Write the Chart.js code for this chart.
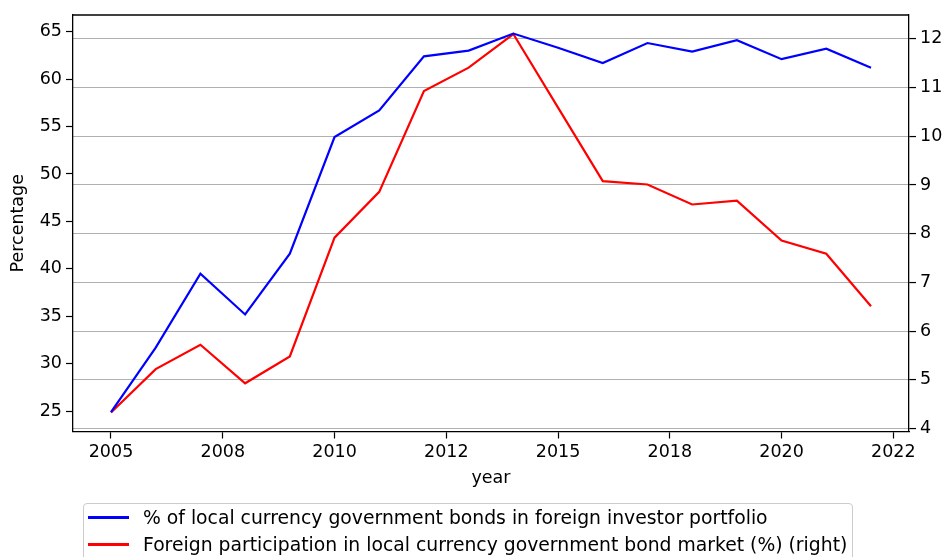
<!DOCTYPE html>
<html lang="en">

<head>
    <meta charset="UTF-8">
    <title>Local currency government bonds</title>
    <script src="https://cdn.jsdelivr.net/npm/chart.js"></script>
    <style>
        html, body {
            margin: 0;
            padding: 0;
            background: #ffffff;
            overflow: hidden;
        }

        .wrap {
            position: relative;
            width: 949px;
            height: 557px;
        }

        #legend {
            position: absolute;
            left: 83px;
            top: 503px;
            width: 768px;
            height: 62px;
            border: 1px solid #cccccc;
            border-radius: 4px;
            font-family: "DejaVu Sans", sans-serif;
            font-size: 18.8px;
            color: #000000;
        }

        .item {
            display: flex;
            align-items: center;
            height: 27px;
            padding-left: 4px;
            white-space: nowrap;
        }

        .swatch {
            display: inline-block;
            width: 41px;
            height: 2.2px;
            margin-right: 14px;
        }
    </style>
</head>

<body>
    <div class="wrap">
        <canvas id="bondChart" width="949" height="557"></canvas>
        <div id="legend"></div>
    </div>

    <script>
        // yearly observations
        const years = [2005, 2006, 2007, 2008, 2009, 2010, 2011, 2012, 2013,
                       2014, 2015, 2016, 2017, 2018, 2019, 2020, 2021, 2022];
        // % of local currency government bonds in foreign investor portfolio (left axis)
        const portfolioShare = [24.9, 31.7, 39.5, 35.2, 41.6, 53.9, 56.7, 62.4, 63.0,
                                64.8, 63.3, 61.7, 63.8, 62.9, 64.1, 62.1, 63.2, 61.2];
        // foreign participation in the bond market, % (right axis)
        const foreignParticipation = [4.33, 5.22, 5.72, 4.93, 5.48, 7.92, 8.86, 10.93, 11.41,
                                      12.10, 10.59, 9.08, 9.01, 8.60, 8.68, 7.86, 7.59, 6.51];

        const xTickValues = [2005, 2007.5, 2010, 2012.5, 2015, 2017.5, 2020, 2022.5];
        const xTickLabels = ['2005', '2008', '2010', '2012', '2015', '2018', '2020', '2022'];
        const leftTicks = [25, 30, 35, 40, 45, 50, 55, 60, 65];
        const rightTicks = [4, 5, 6, 7, 8, 9, 10, 11, 12];

        const seriesNames = [
            '% of local currency government bonds in foreign investor portfolio',
            'Foreign participation in local currency government bond market (%) (right)'
        ];
        const seriesColors = ['#0000ff', '#ff0000'];

        const FONT = { family: 'DejaVu Sans', size: 17.5 };

        const toPoints = (vals) => years.map((yr, i) => ({ x: yr, y: vals[i] }));
        const fixTicks = (list) => (scale) => {
            scale.ticks = list.map(v => ({ value: v }));
        };

        // matplotlib-like top spine (chart.js only draws left/right/bottom borders here)
        const topSpine = {
            id: 'topSpine',
            afterDraw(chart) {
                const { ctx, chartArea } = chart;
                ctx.save();
                ctx.strokeStyle = '#000000';
                ctx.lineWidth = 1.3;
                ctx.beginPath();
                ctx.moveTo(chartArea.left, chartArea.top);
                ctx.lineTo(chartArea.right, chartArea.top);
                ctx.stroke();
                ctx.restore();
            }
        };

        const ctx = document.getElementById('bondChart').getContext('2d');
        const bondChart = new Chart(ctx, {
            type: 'line',
            data: {
                datasets: [{
                    label: seriesNames[0],
                    data: toPoints(portfolioShare),
                    borderColor: seriesColors[0],
                    backgroundColor: seriesColors[0],
                    borderWidth: 2.2,
                    pointRadius: 0,
                    tension: 0,
                    yAxisID: 'y'
                }, {
                    label: seriesNames[1],
                    data: toPoints(foreignParticipation),
                    borderColor: seriesColors[1],
                    backgroundColor: seriesColors[1],
                    borderWidth: 2.2,
                    pointRadius: 0,
                    tension: 0,
                    yAxisID: 'y1'
                }]
            },
            options: {
                responsive: false,
                animation: false,
                layout: {
                    padding: { top: 15, left: 0, right: 0, bottom: 68 }
                },
                plugins: {
                    legend: { display: false },
                    tooltip: { enabled: false }
                },
                scales: {
                    x: {
                        type: 'linear',
                        position: 'bottom',
                        min: 2004.15,
                        max: 2022.85,
                        afterBuildTicks: fixTicks(xTickValues),
                        afterFit: (s) => { s.height = 57.5; },
                        ticks: {
                            font: FONT,
                            color: '#000000',
                            padding: 3,
                            maxRotation: 0,
                            autoSkip: false,
                            callback: (v, i) => xTickLabels[i]
                        },
                        grid: {
                            drawOnChartArea: false,
                            tickLength: 7,
                            tickColor: '#000000',
                            tickWidth: 1.2
                        },
                        border: { color: '#000000', width: 1.3 },
                        title: {
                            display: true,
                            text: 'year',
                            font: FONT,
                            color: '#000000',
                            padding: { top: 0, bottom: 0 }
                        }
                    },
                    y: {
                        type: 'linear',
                        position: 'left',
                        min: 22.865,
                        max: 66.755,
                        afterBuildTicks: fixTicks(leftTicks),
                        afterFit: (s) => { s.width = 73; },
                        ticks: {
                            font: FONT,
                            color: '#000000',
                            padding: 4
                        },
                        grid: {
                            drawOnChartArea: false,
                            tickLength: 7,
                            tickColor: '#000000',
                            tickWidth: 1.2
                        },
                        border: { color: '#000000', width: 1.3 },
                        title: {
                            display: true,
                            text: 'Percentage',
                            font: FONT,
                            color: '#000000',
                            padding: { top: 8, bottom: 0 }
                        }
                    },
                    y1: {
                        type: 'linear',
                        position: 'right',
                        min: 3.94,
                        max: 12.49,
                        afterBuildTicks: fixTicks(rightTicks),
                        afterFit: (s) => { s.width = 40; },
                        ticks: {
                            font: FONT,
                            color: '#000000',
                            padding: 4
                        },
                        grid: {
                            drawOnChartArea: true,
                            color: '#b0b0b0',
                            lineWidth: 1.1,
                            tickLength: 7,
                            tickColor: '#000000',
                            tickWidth: 1.2
                        },
                        border: { color: '#000000', width: 1.3 }
                    }
                }
            },
            plugins: [topSpine]
        });

        // legend box below the axes
        const legendEl = document.getElementById('legend');
        seriesNames.forEach((name, i) => {
            const row = document.createElement('div');
            row.className = 'item';
            const sw = document.createElement('span');
            sw.className = 'swatch';
            sw.style.background = seriesColors[i];
            const txt = document.createElement('span');
            txt.textContent = name;
            row.appendChild(sw);
            row.appendChild(txt);
            legendEl.appendChild(row);
        });
    </script>

</body>

</html>
